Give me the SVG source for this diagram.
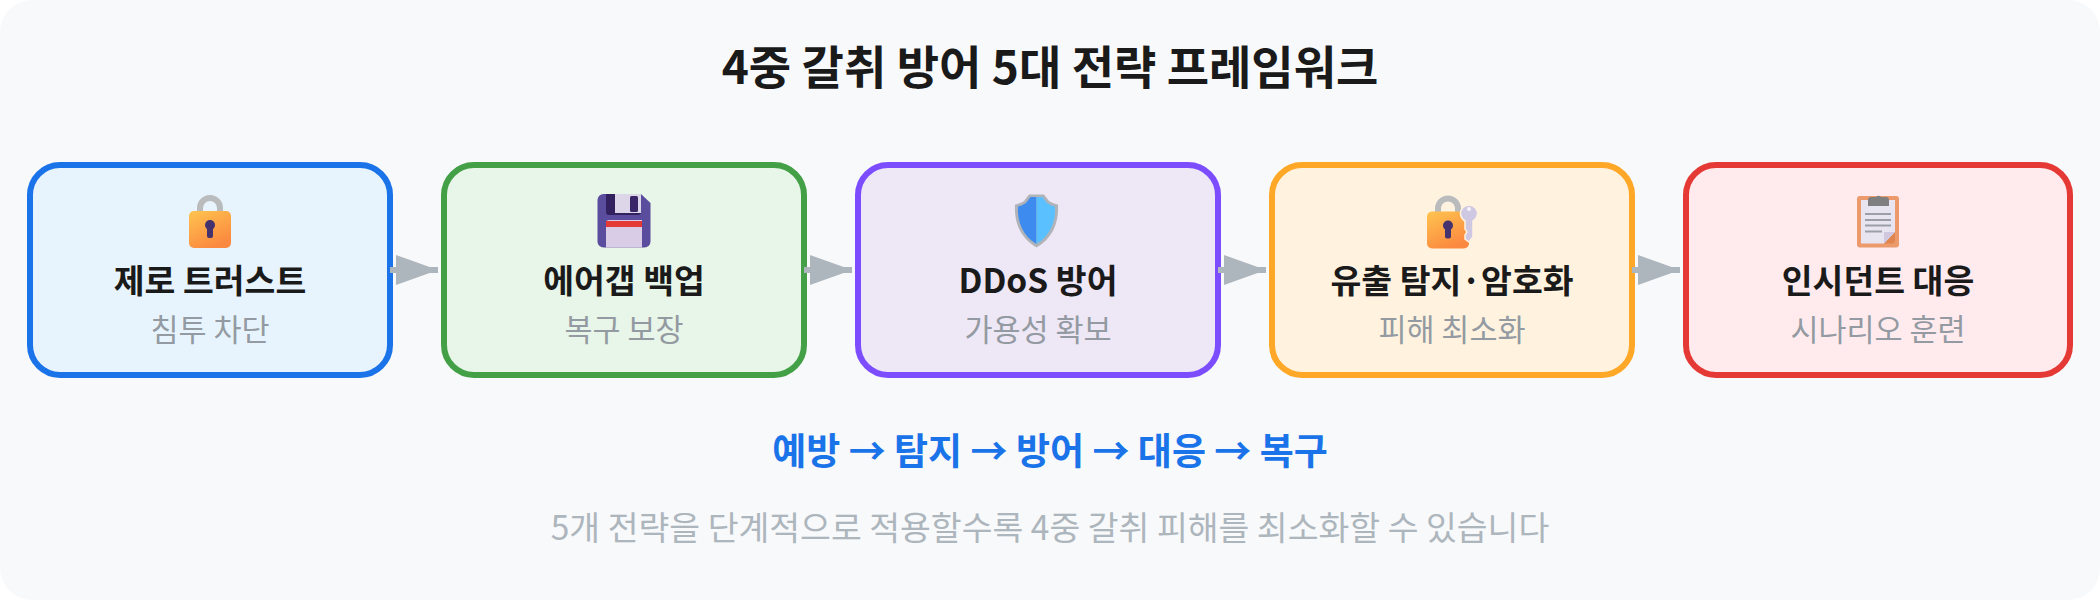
<svg xmlns="http://www.w3.org/2000/svg" width="2100" height="600" viewBox="0 0 2100 600">
<style>
text{font-family:"Noto Sans CJK KR","Noto Sans",sans-serif;text-anchor:middle}
.box{stroke-width:6}
.t{font-size:33.500px;font-weight:700;fill:#1a1a1a}
.s{font-size:30.500px;fill:#939aa1}
.c{stroke:#adb5bd;stroke-width:6;fill:none;marker-end:url(#arrow)}
</style>
<defs>
<marker id="arrow" markerUnits="userSpaceOnUse" markerWidth="42" markerHeight="30" refX="42" refY="15" orient="auto"><path d="M0 0L42 15L0 30Z" fill="#adb5bd"/></marker>
<linearGradient id="lockg" x1="0" y1="0" x2="0.5" y2="1"><stop offset="0" stop-color="#ffc44f"/><stop offset="1" stop-color="#fb8a40"/></linearGradient>
<g id="lock">
<path d="M-10 -12V-17A10 10 0 0 1 10 -17V-12" fill="none" stroke="#b9bbbd" stroke-width="6"/>
<rect x="-21" y="-14" width="42" height="37" rx="5" fill="url(#lockg)"/>
<circle cx="0" cy="0" r="5" fill="#43326e"/><rect x="-3" y="0" width="6" height="13" rx="2" fill="#43326e"/>
</g>
</defs>
<rect x="0" y="0" width="2100" height="600" rx="32" fill="#f8f9fa"/>
<g id="title"><text x="1050" y="84" font-size="46" font-weight="700" fill="#1a1a1a">4중 갈취 방어 5대 전략 프레임워크</text></g>
<g id="node1"><rect class="box" x="30" y="165" width="360" height="210" rx="30" fill="#e8f4fd" stroke="#1a73e8"/>
<use href="#lock" x="210" y="225"/>
<text class="t" x="210" y="293">제로 트러스트</text><text class="s" x="210" y="341">침투 차단</text></g>
<g id="node2"><rect class="box" x="444" y="165" width="360" height="210" rx="30" fill="#e8f5e9" stroke="#43a047"/>
<path d="M603.500 194H641L650.500 203V241.500a6 6 0 0 1-6 6H603.500a6 6 0 0 1-6-6V200a6 6 0 0 1 6-6Z" fill="#5b4d9e"/>
<path d="M606 194H641V212a3 3 0 0 1-3 3H609a3 3 0 0 1-3-3Z" fill="#33215f"/>
<rect x="615" y="194" width="26" height="19" fill="#dcd6e8"/><rect x="630" y="196" width="8" height="16" rx="1.500" fill="#3a2568"/>
<path d="M606 223a3 3 0 0 1 3-3H642V247.500H606Z" fill="#d8cce6"/><rect x="606" y="221" width="36" height="6" fill="#e53935"/>
<text class="t" x="624" y="293">에어갭 백업</text><text class="s" x="624" y="341">복구 보장</text></g>
<g id="node3"><rect class="box" x="858" y="165" width="360" height="210" rx="30" fill="#ede7f6" stroke="#7c4dff"/>
<path d="M1029 194.500H1044L1049 201C1052 203 1055 204 1058 204.500C1059 222 1053 238 1036.500 247.500C1020 238 1014 222 1015 204.500C1018 204 1021 203 1024 201Z" fill="#b0b3b8"/>
<path d="M1036.500 197H1030.500L1026 203C1023 205 1021 206 1018 206.500C1017 222 1023 236 1036.500 244Z" fill="#3d8bef"/>
<path d="M1036.500 197H1042.500L1047 203C1050 205 1052 206 1055 206.500C1056 222 1050 236 1036.500 244Z" fill="#5bc0ff"/>
<text class="t" x="1038" y="293">DDoS 방어</text><text class="s" x="1038" y="341">가용성 확보</text></g>
<g id="node4"><rect class="box" x="1272" y="165" width="360" height="210" rx="30" fill="#fff3e0" stroke="#ffa726"/>
<use href="#lock" x="1448" y="225.500"/>
<path d="M1465 221A8.500 8.500 0 1 1 1473 221V237L1469 242L1465 239V235L1467 232L1465 229Z" fill="#cfc8e2" stroke="#fff3e0" stroke-width="1.500"/>
<circle cx="1469" cy="209" r="2" fill="#f5f2fa"/>
<text class="t" x="1452" y="293">유출 탐지·암호화</text><text class="s" x="1452" y="341">피해 최소화</text></g>
<g id="node5"><rect class="box" x="1686" y="165" width="384" height="210" rx="30" fill="#ffebee" stroke="#e53935"/>
<rect x="1857" y="196" width="42" height="51.500" rx="3" fill="#ec9a6c"/>
<path d="M1861 200H1895V232L1884 243.500H1861Z" fill="#e8e4f0"/>
<path d="M1884 243.500L1895 232V241L1893 243.500Z" fill="#e08550"/><path d="M1884 243.500V232H1895Z" fill="#cfc8de"/>
<path d="M1868 206V199a3 3 0 0 1 3-2h5a3 3 0 0 1 5 0h5a3 3 0 0 1 3 2V206Z" fill="#7f7f7f"/>
<path d="M1865 214h26M1865 220h26M1865 225.500h26M1865 231.500h17" stroke="#9aa0a6" stroke-width="2" fill="none"/>
<text class="t" x="1878" y="293">인시던트 대응</text><text class="s" x="1878" y="341">시나리오 훈련</text></g>
<g id="connectors">
<line class="c" x1="390" y1="270" x2="438" y2="270"/>
<line class="c" x1="804" y1="270" x2="852" y2="270"/>
<line class="c" x1="1218" y1="270" x2="1266" y2="270"/>
<line class="c" x1="1632" y1="270" x2="1680" y2="270"/>
</g>
<g id="flow"><text x="1050" y="465" font-size="37" font-weight="700" fill="#1a73e8">예방 → 탐지 → 방어 → 대응 → 복구</text></g>
<g id="note"><text x="1050" y="540" font-size="33.500" fill="#adb5bd">5개 전략을 단계적으로 적용할수록 4중 갈취 피해를 최소화할 수 있습니다</text></g>
</svg>
